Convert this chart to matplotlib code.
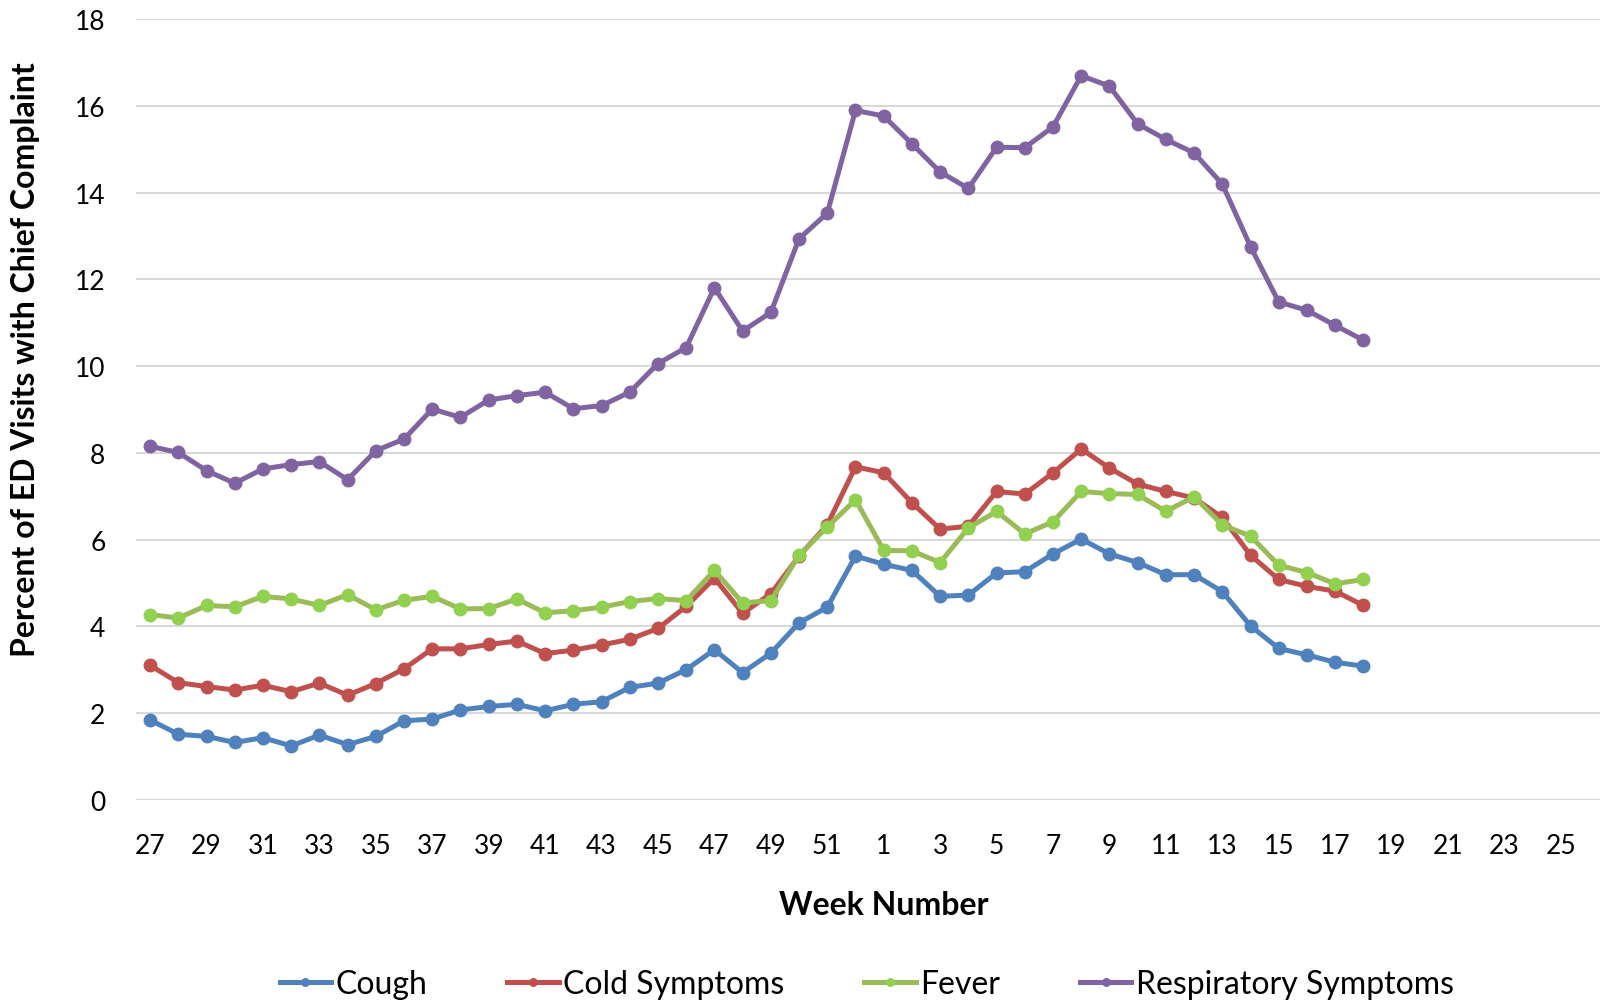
import matplotlib
matplotlib.use("Agg")
import matplotlib.pyplot as plt

plt.rcParams['font.family'] = ['Lato', 'DejaVu Sans']

# week labels: season runs week 27 -> week 26 of next year
weeks = list(range(27, 53)) + list(range(1, 27))

cough = [1.84, 1.51, 1.46, 1.32, 1.43, 1.24, 1.49, 1.27, 1.46, 1.82,
         1.86, 2.07, 2.15, 2.20, 2.05, 2.20, 2.26, 2.59, 2.69, 3.00,
         3.46, 2.93, 3.38, 4.08, 4.44, 5.62, 5.43, 5.29, 4.69, 4.72,
         5.23, 5.26, 5.67, 6.01, 5.67, 5.47, 5.19, 5.19, 4.80, 4.01,
         3.49, 3.34, 3.17, 3.08]
cold = [3.10, 2.70, 2.61, 2.53, 2.64, 2.49, 2.69, 2.41, 2.68, 3.02,
        3.48, 3.48, 3.58, 3.66, 3.37, 3.45, 3.57, 3.70, 3.95, 4.46,
        5.11, 4.30, 4.75, 5.62, 6.34, 7.68, 7.54, 6.85, 6.24, 6.31,
        7.11, 7.05, 7.54, 8.09, 7.65, 7.28, 7.11, 6.96, 6.51, 5.64,
        5.08, 4.92, 4.81, 4.48]
fever = [4.27, 4.19, 4.48, 4.45, 4.69, 4.63, 4.48, 4.73, 4.38, 4.60,
         4.69, 4.40, 4.41, 4.63, 4.31, 4.36, 4.44, 4.57, 4.64, 4.59,
         5.29, 4.54, 4.59, 5.64, 6.29, 6.92, 5.75, 5.74, 5.47, 6.27,
         6.65, 6.13, 6.41, 7.11, 7.06, 7.04, 6.65, 6.99, 6.34, 6.08,
         5.41, 5.24, 4.98, 5.08]
resp = [8.15, 8.01, 7.59, 7.30, 7.63, 7.73, 7.80, 7.38, 8.05, 8.32,
        9.01, 8.82, 9.22, 9.32, 9.40, 9.02, 9.09, 9.40, 10.06, 10.43,
        11.81, 10.81, 11.24, 12.94, 13.53, 15.90, 15.77, 15.13, 14.48, 14.10,
        15.05, 15.04, 15.52, 16.70, 16.46, 15.59, 15.23, 14.92, 14.20, 12.76,
        11.48, 11.29, 10.94, 10.60]

series = [
    ("Cough", cough, "#4F81BD", "#4F81BD"),
    ("Cold Symptoms", cold, "#C0504D", "#C0504D"),
    ("Fever", fever, "#9BBB59", "#92D050"),
    ("Respiratory Symptoms", resp, "#8064A2", "#8064A2"),
]

fig = plt.figure(figsize=(16, 10.03), dpi=100)
ax = fig.add_axes([0.085, 0.2017, 0.917, 0.778])

for name, vals, lc, mc in series:
    ax.plot(range(len(vals)), vals, color=lc, lw=3.6, marker='o', ms=9,
            mfc=mc, mec=mc, label=name, solid_joinstyle='round')

ax.set_xlim(-0.5, len(weeks) - 0.5)
ax.set_ylim(0, 18)
ax.set_yticks(range(0, 19, 2))
ax.set_xticks(range(0, len(weeks), 2))
ax.set_xticklabels([str(w) for w in weeks[::2]])
ax.tick_params(axis='both', length=0, labelsize=19)
ax.tick_params(axis='x', pad=24)
ax.tick_params(axis='y', pad=22)
ax.grid(axis='y', color='#d9d9d9', lw=1.5)
ax.set_axisbelow(True)
for s in ax.spines.values():
    s.set_visible(False)

fig.text(26 / 1600, 1 - 360 / 1003, "Percent of ED Visits with Chief Complaint",
         rotation=90, ha='center', va='center', fontsize=23, fontweight='bold')
fig.text(884 / 1600, 1 - 906 / 1003, "Week Number",
         ha='center', va='center', fontsize=23, fontweight='bold')

fig.legend(loc='center', bbox_to_anchor=(867 / 1600, 1 - 985 / 1003), ncol=4,
           frameon=False, fontsize=23, handlelength=1.6, handletextpad=0.15,
           columnspacing=2.5, markerscale=0.6)

fig.savefig("out.png", dpi=100)
